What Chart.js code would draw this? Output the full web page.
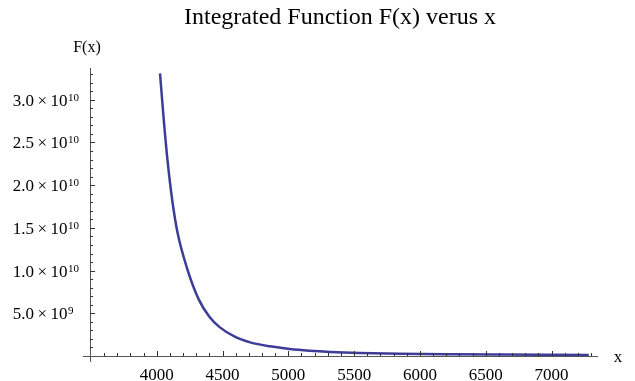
<!DOCTYPE html>
<html>
<head>
<meta charset="utf-8">
<script src="https://cdn.jsdelivr.net/npm/chart.js@4/dist/chart.umd.min.js"></script>
<style>
  html, body { margin: 0; padding: 0; background: #fff; }
  #wrap { width: 635px; height: 381px; }
</style>
</head>
<body>
<div id="wrap"><canvas id="fChart" width="635" height="381"></canvas></div>
<script>
// values
const xValues = [4025, 4050, 4080, 4120, 4160, 4230, 4320, 4400, 4480, 4600, 4710,
                 4860, 5010, 5160, 5320, 5540, 5850, 6230, 6610, 6990, 7283];
const fValues = [3.31e10, 2.83e10, 2.32e10, 1.80e10, 1.43e10, 1.03e10, 6.6e9, 4.6e9,
                 3.35e9, 2.2e9, 1.6e9, 1.13e9, 8.2e8, 6.2e8, 4.8e8, 3.6e8, 2.7e8,
                 2.1e8, 1.7e8, 1.4e8, 1.2e8];
const xMajorTicks = [4000, 4500, 5000, 5500, 6000, 6500, 7000];
const yMajorTicks = [5e9, 1e10, 1.5e10, 2e10, 2.5e10, 3e10];
const xMinorTicks = [3600, 3700, 3800, 3900, 4100, 4200, 4300, 4400, 4600, 4700, 4800, 4900,
                     5100, 5200, 5300, 5400, 5600, 5700, 5800, 5900, 6100, 6200, 6300, 6400,
                     6600, 6700, 6800, 6900, 7100, 7200, 7300];
const yMinorTicks = [1e9, 2e9, 3e9, 4e9, 6e9, 7e9, 8e9, 9e9, 1.1e10, 1.2e10, 1.3e10, 1.4e10,
                     1.6e10, 1.7e10, 1.8e10, 1.9e10, 2.1e10, 2.2e10, 2.3e10, 2.4e10,
                     2.6e10, 2.7e10, 2.8e10, 2.9e10, 3.1e10, 3.2e10, 3.3e10];

const serif = '"Liberation Serif", "Times New Roman", serif';

// mantissa part and exponent part of a y label
function sciParts(v) {
    if (v >= 1e10) return [(v / 1e10).toFixed(1) + '\u2009×\u200910', '10'];
    return [(v / 1e9).toFixed(1) + '\u2009×\u200910', '9'];
}

// axes in the Mathematica style: crossing lines with small inward ticks
const axesPlugin = {
    id: 'axesPlugin',
    afterDraw(chart) {
        const c = chart.ctx;
        const xs = chart.scales.x, ys = chart.scales.y;
        const x0 = xs.left, y0 = ys.bottom;
        c.save();
        c.strokeStyle = '#555';
        c.lineWidth = 1;
        c.beginPath();
        c.moveTo(x0 - 7, y0 + 0.5);
        c.lineTo(xs.right, y0 + 0.5);
        c.moveTo(x0 + 0.5, y0 + 6);
        c.lineTo(x0 + 0.5, ys.top);
        c.stroke();

        c.strokeStyle = '#333';
        c.beginPath();
        xMajorTicks.forEach(v => {
            const p = Math.round(xs.getPixelForValue(v)) + 0.5;
            c.moveTo(p, y0); c.lineTo(p, y0 - 5);
        });
        xMinorTicks.forEach(v => {
            const p = Math.round(xs.getPixelForValue(v)) + 0.5;
            c.moveTo(p, y0); c.lineTo(p, y0 - 3);
        });
        yMajorTicks.forEach(v => {
            const p = Math.round(ys.getPixelForValue(v)) + 0.5;
            c.moveTo(x0, p); c.lineTo(x0 + 5, p);
        });
        yMinorTicks.forEach(v => {
            const p = Math.round(ys.getPixelForValue(v)) + 0.5;
            c.moveTo(x0, p); c.lineTo(x0 + 3, p);
        });
        c.stroke();

        // y tick labels with a raised exponent
        c.fillStyle = '#000';
        c.textBaseline = 'alphabetic';
        c.textAlign = 'left';
        yMajorTicks.forEach(v => {
            const [base, exp] = sciParts(v);
            const py = ys.getPixelForValue(v) + 6;
            c.font = '17px ' + serif;
            const w = c.measureText(base).width;
            c.fillText(base, 67.5 - w, py);
            c.font = '11px ' + serif;
            c.fillText(exp, 68, py - 5);
        });

        c.textAlign = 'center';
        c.font = '24px ' + serif;
        c.fillText('Integrated Function F(x) verus x', 340, 24);
        c.font = '16px ' + serif;
        c.fillText('F(x)', 87, 52);
        c.font = '17px ' + serif;
        c.fillText('x', 618, 362);
        c.restore();
    }
};

document.addEventListener('DOMContentLoaded', function () {
    const ctx = document.getElementById('fChart').getContext('2d');

    new Chart(ctx, {
        type: 'line',
        data: {
            datasets: [{
                data: xValues.map((x, i) => ({ x: x, y: fValues[i] })),
                borderColor: '#3d3d99',
                borderWidth: 2.5,
                pointRadius: 0,
                cubicInterpolationMode: 'monotone',
                fill: false
            }]
        },
        options: {
            responsive: false,
            animation: false,
            layout: { padding: { left: 0, right: 37, top: 68, bottom: 0 } },
            plugins: {
                legend: { display: false },
                tooltip: { enabled: false },
                title: { display: false }
            },
            scales: {
                x: {
                    type: 'linear',
                    min: 3493,
                    max: 7353,
                    grid: { display: false, drawTicks: false },
                    border: { display: false },
                    afterBuildTicks: s => { s.ticks = xMajorTicks.map(v => ({ value: v })); },
                    afterFit: s => { s.height = 25; },
                    ticks: {
                        padding: 9,
                        maxRotation: 0,
                        color: '#000',
                        font: { family: serif, size: 17 },
                        callback: v => String(v)
                    }
                },
                y: {
                    type: 'linear',
                    min: 0,
                    max: 3.372e10,
                    grid: { display: false, drawTicks: false },
                    border: { display: false },
                    afterBuildTicks: s => { s.ticks = yMajorTicks.map(v => ({ value: v })); },
                    afterFit: s => { s.width = 90; },
                    ticks: { display: false }
                }
            }
        },
        plugins: [axesPlugin]
    });
});
</script>
</body>
</html>
